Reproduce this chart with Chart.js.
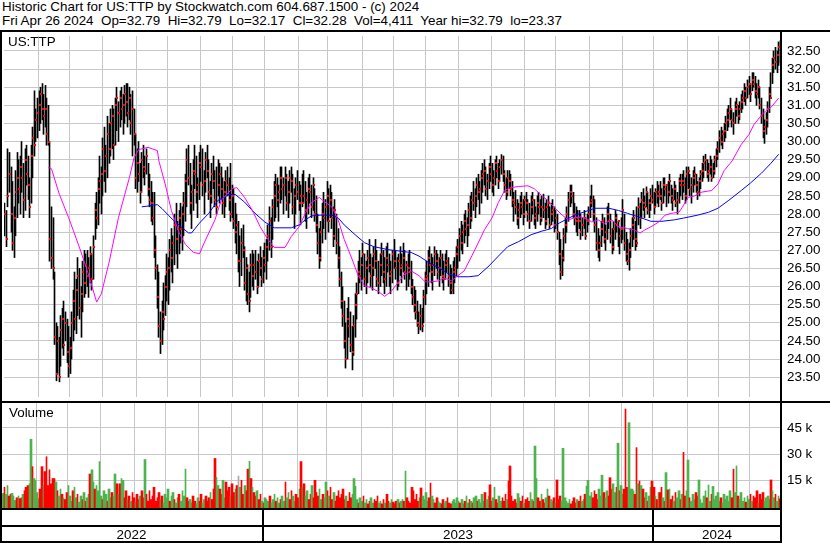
<!DOCTYPE html>
<html>
<head>
<meta charset="utf-8">
<title>US:TTP historic chart</title>
<script src="https://cdn.jsdelivr.net/npm/chart.js@4.4.1/dist/chart.umd.min.js"></script>
<style>
  html, body { margin: 0; padding: 0; background: #fff; }
  body { position: relative; width: 830px; height: 543px; overflow: hidden;
         font-family: "Liberation Sans", Arial, sans-serif; font-size: 13.4px; color: #000; }
  .txt { position: absolute; line-height: 14.4px; white-space: pre; }
  .rule { position: absolute; background: #000; }
  canvas { position: absolute; left: 0; }
</style>
</head>
<body>
<div class="txt" style="left:2px;top:0">Historic Chart for US:TTP by Stockwatch.com 604.687.1500 - (c) 2024
Fri Apr 26 2024  Op=32.79  Hi=32.79  Lo=32.17  Cl=32.28  Vol=4,411  Year hi=32.79  lo=23.37</div>
<canvas id="priceChart" width="830" height="369" style="top:32px"></canvas>
<canvas id="volumeChart" width="830" height="105" style="top:403px"></canvas>
<div class="txt" style="left:8px;top:34.5px">US:TTP</div>
<div class="txt" style="left:9px;top:406px">Volume</div>
<div class="rule" style="left:0;top:30px;width:830px;height:2px"></div>
<div class="rule" style="left:0;top:401px;width:830px;height:2px"></div>
<div class="rule" style="left:0;top:508px;width:781px;height:2px"></div>
<div class="rule" style="left:0;top:525px;width:781px;height:2px"></div>
<div class="rule" style="left:0;top:541px;width:781px;height:2px"></div>
<div class="rule" style="left:0;top:30px;width:2px;height:513px"></div>
<div class="rule" style="left:780px;top:30px;width:2px;height:513px"></div>
<div id="yearBand"></div>
<script>
// daily bars, May 2022 .. Apr 26 2024
const lows = [
  27.4, 27.1, 28.2, 28.6, 27.5, 27.0, 26.8, 27.4, 27.9, 28.3,
  28.0, 28.6, 27.9, 28.1, 28.8, 28.4, 27.9, 28.3, 29.0, 29.6,
  30.0, 30.1, 30.3, 30.5, 30.6, 30.2, 30.4, 29.9, 29.9, 26.7,
  26.5, 26.2, 24.4, 23.4, 23.6, 23.37, 23.8, 24.3, 24.1, 24.5,
  23.9, 23.5, 23.6, 24.0, 24.5, 24.8, 24.7, 25.2, 25.1, 24.6,
  25.3, 25.7, 25.8, 26.0, 25.7, 26.1, 25.9, 26.2, 27.3, 27.6,
  27.7, 28.3, 28.0, 28.5, 28.9, 28.6, 29.0, 29.4, 29.6, 29.8,
  29.5, 29.9, 30.3, 30.0, 30.4, 30.6, 30.2, 30.5, 30.7, 30.4,
  30.6, 30.2, 29.6, 29.9, 28.7, 28.6, 28.9, 28.3, 28.6, 29.0,
  28.8, 29.1, 28.5, 28.2, 27.8, 27.7, 26.8, 26.2, 25.4, 24.6,
  24.15, 24.4, 24.8, 25.2, 25.6, 25.5, 25.9, 26.4, 26.1, 26.6,
  26.9, 26.5, 26.9, 27.2, 27.0, 27.4, 27.8, 28.2, 28.8, 28.0,
  27.6, 28.1, 28.7, 28.3, 27.9, 28.4, 28.9, 28.5, 28.0, 28.6,
  29.0, 28.4, 27.9, 28.3, 28.7, 28.2, 28.0, 28.5, 28.3, 28.4,
  28.0, 27.9, 28.2, 28.5, 28.1, 27.8, 27.9, 27.6, 27.2, 26.9,
  26.4, 26.0, 26.3, 26.8, 25.9, 25.6, 25.5, 25.3, 25.7, 26.0,
  25.9, 26.2, 25.8, 26.0, 26.3, 26.0, 26.1, 26.4, 26.2, 26.7,
  27.0, 26.8, 27.3, 27.8, 27.9, 28.2, 27.8, 28.3, 28.4, 28.0,
  28.5, 28.1, 27.9, 28.3, 28.6, 28.0, 27.6, 28.0, 28.4, 28.1,
  27.7, 28.2, 28.3, 27.8, 27.6, 28.0, 28.3, 27.9, 28.1, 27.8,
  27.5, 26.9, 26.5, 26.7, 27.2, 27.6, 27.3, 27.8, 27.5, 27.9,
  27.6, 27.1, 27.3, 26.9, 26.5, 26.0, 25.4, 24.9, 24.3, 23.75,
  24.0, 24.6, 24.2, 23.7, 24.1, 24.6, 25.1, 25.8, 26.1, 25.9,
  26.2, 26.0, 25.8, 26.1, 26.4, 26.0, 25.9, 26.3, 26.5, 26.0,
  25.8, 26.0, 26.3, 26.1, 25.8, 26.0, 26.4, 26.0, 25.8, 26.1,
  26.5, 26.2, 25.9, 26.0, 26.3, 26.1, 26.4, 26.2, 25.9, 26.0,
  26.2, 25.8, 25.5, 25.3, 25.1, 24.9, 24.7, 24.8, 24.75, 25.0,
  25.5, 25.8, 26.0, 26.4, 26.1, 25.9, 26.3, 26.5, 26.2, 26.0,
  26.3, 26.1, 25.9, 26.2, 26.4, 26.0, 25.8, 25.8, 25.8, 26.1,
  26.3, 26.5, 26.7, 27.0, 26.9, 27.2, 27.4, 27.1, 27.4, 27.6,
  27.8, 28.1, 27.9, 28.2, 28.4, 28.0, 28.3, 28.6, 28.8, 28.5,
  28.4, 28.7, 28.9, 28.6, 28.5, 28.8, 29.0, 28.7, 28.9, 29.1,
  28.9, 28.6, 28.4, 28.5, 28.7, 28.5, 28.2, 27.8, 28.0, 27.7,
  27.6, 27.9, 28.0, 27.7, 27.9, 28.1, 27.8, 27.6, 27.8, 28.0,
  27.7, 27.6, 27.8, 28.0, 27.7, 27.8, 27.9, 27.6, 27.7, 27.9,
  27.6, 27.7, 27.8, 27.5, 27.6, 27.3, 26.6, 26.2, 26.3, 26.7,
  27.2, 27.5, 27.8, 28.2, 28.3, 27.9, 27.7, 27.5, 27.4, 27.6,
  27.3, 27.4, 27.6, 27.3, 27.5, 27.7, 27.9, 28.2, 27.8, 27.5,
  27.0, 26.8, 26.7, 27.1, 27.4, 27.2, 27.0, 27.3, 27.6, 27.2,
  26.9, 27.0, 27.3, 27.5, 27.1, 26.9, 27.2, 27.3, 27.0, 26.7,
  26.6, 26.45, 26.8, 27.1, 27.3, 27.0, 27.1, 27.7, 27.6, 27.9,
  28.1, 27.9, 28.2, 28.0, 27.9, 28.1, 28.3, 28.0, 28.2, 28.3,
  28.2, 28.4, 28.1, 28.3, 28.5, 28.2, 28.3, 28.5, 28.3, 28.1,
  28.4, 28.2, 28.0, 28.3, 28.5, 28.4, 28.6, 28.3, 28.4, 28.7,
  28.5, 28.3, 28.6, 28.8, 28.6, 28.4, 28.5, 28.7, 28.9, 29.0,
  29.2, 29.0, 28.9, 29.1, 28.9, 29.0, 29.1, 29.3, 29.5, 29.7,
  29.9, 29.8, 30.0, 30.1, 30.3, 30.4, 30.6, 30.4, 30.2, 30.5,
  30.7, 30.5, 30.6, 30.8, 30.9, 31.1, 31.0, 31.2, 31.3, 31.1,
  31.4, 31.5, 31.2, 31.0, 31.2, 30.9, 30.5, 30.1, 29.95, 30.2,
  30.4, 30.8, 31.2, 31.6, 31.9, 32.0, 31.9, 32.1, 32.17
];
const highs = [
  28.3, 28.1, 29.8, 29.7, 29.3, 28.9, 28.2, 29.2, 29.7, 29.5,
  29.6, 30.0, 29.4, 29.8, 29.9, 29.6, 29.0, 29.9, 30.4, 31.4,
  30.9, 31.2, 31.4, 31.5, 31.6, 31.3, 31.55, 31.2, 31.0, 30.0,
  28.2, 27.9, 26.4, 25.0, 24.9, 24.6, 25.2, 25.4, 25.6, 25.3,
  25.1, 24.9, 24.6, 25.3, 25.9, 26.4, 26.2, 26.8, 26.5, 26.0,
  26.7, 27.0, 26.9, 27.0, 26.8, 27.1, 26.9, 27.4, 28.3, 28.6,
  29.0, 29.6, 29.3, 30.1, 30.4, 29.9, 30.7, 30.5, 30.9, 31.0,
  30.9, 31.2, 31.5, 31.1, 31.4, 31.5, 31.3, 31.55, 31.6, 31.6,
  31.5, 31.3, 31.4, 30.9, 30.2, 29.8, 30.0, 29.4, 29.7, 29.9,
  29.6, 29.8, 29.4, 29.1, 28.9, 28.6, 28.6, 27.4, 26.6, 26.4,
  25.3, 25.6, 26.1, 26.3, 26.9, 26.8, 27.3, 27.6, 27.4, 28.0,
  28.3, 27.8, 28.1, 28.3, 28.2, 28.6, 29.1, 29.8, 29.9, 29.4,
  28.8, 29.5, 29.9, 29.6, 29.0, 29.7, 29.9, 29.8, 29.2, 29.7,
  29.9, 29.5, 28.9, 29.4, 29.6, 29.2, 29.3, 29.5, 29.4, 29.3,
  29.0, 28.9, 29.2, 29.3, 29.0, 29.4, 28.8, 28.7, 28.3, 28.0,
  27.8, 27.4, 27.6, 27.7, 27.1, 26.8, 26.6, 26.4, 26.9, 27.0,
  26.9, 27.0, 26.7, 26.9, 27.1, 26.8, 27.0, 27.2, 27.3, 27.7,
  28.2, 27.9, 28.4, 28.9, 29.1, 29.0, 28.8, 29.3, 29.3, 29.0,
  29.3, 29.1, 28.9, 29.2, 29.3, 29.1, 28.7, 29.0, 29.2, 28.9,
  28.8, 29.1, 29.2, 28.9, 28.6, 29.0, 29.1, 28.8, 29.0, 28.7,
  28.5, 28.0, 27.6, 27.8, 28.3, 28.6, 28.4, 28.9, 28.7, 28.8,
  28.6, 28.2, 28.4, 28.0, 27.6, 27.1, 26.4, 26.0, 25.6, 25.0,
  25.4, 25.7, 25.3, 24.9, 25.2, 25.8, 26.1, 26.7, 27.0, 26.8,
  27.2, 26.9, 26.7, 27.0, 27.3, 26.9, 26.8, 27.1, 27.3, 27.0,
  26.7, 26.9, 27.2, 27.0, 26.8, 27.1, 27.2, 26.9, 26.7, 27.0,
  27.3, 27.0, 26.8, 26.9, 27.1, 26.9, 27.2, 27.0, 26.7, 26.9,
  27.0, 26.7, 26.2, 26.0, 25.9, 25.6, 25.3, 25.5, 25.4, 25.9,
  26.4, 26.7, 27.0, 27.1, 26.9, 26.8, 27.1, 27.0, 26.9, 26.8,
  27.0, 26.9, 26.7, 26.9, 27.0, 26.8, 26.6, 26.5, 26.7, 26.8,
  27.1, 27.3, 27.6, 27.8, 27.7, 28.0, 28.1, 27.9, 28.3, 28.5,
  28.6, 28.9, 28.7, 29.0, 29.1, 28.9, 29.2, 29.4, 29.5, 29.3,
  29.1, 29.4, 29.6, 29.4, 29.2, 29.5, 29.6, 29.4, 29.5, 29.64,
  29.6, 29.2, 29.0, 29.2, 29.2, 29.1, 28.9, 28.6, 28.65, 28.4,
  28.3, 28.5, 28.6, 28.4, 28.5, 28.6, 28.4, 28.3, 28.5, 28.6,
  28.4, 28.2, 28.5, 28.6, 28.4, 28.5, 28.55, 28.3, 28.4, 28.5,
  28.2, 28.3, 28.4, 28.2, 28.1, 28.0, 27.5, 27.3, 27.0, 27.6,
  27.9, 28.2, 28.6, 28.8, 28.8, 28.6, 28.3, 28.2, 28.1, 28.1,
  28.0, 27.9, 28.1, 27.9, 28.0, 28.2, 28.5, 28.8, 28.5, 28.4,
  27.9, 27.6, 27.4, 27.8, 28.0, 27.9, 27.7, 28.2, 28.3, 28.0,
  27.6, 27.8, 28.1, 28.0, 27.8, 27.6, 27.9, 28.4, 28.0, 27.5,
  27.3, 27.2, 27.6, 27.9, 28.1, 27.8, 28.2, 28.45, 28.3, 28.6,
  28.7, 28.5, 28.75, 28.6, 28.4, 28.7, 28.8, 28.6, 28.7, 28.9,
  28.8, 28.9, 28.7, 29.0, 29.0, 28.8, 28.9, 29.1, 28.8, 28.7,
  28.9, 28.8, 28.6, 29.0, 29.1, 29.1, 29.2, 29.0, 29.3, 29.3,
  29.1, 29.0, 29.2, 29.3, 29.1, 28.9, 29.0, 29.2, 29.4, 29.6,
  29.65, 29.5, 29.4, 29.6, 29.5, 29.4, 29.6, 29.8, 30.0, 30.3,
  30.4, 30.3, 30.5, 30.7, 30.9, 31.0, 31.2, 30.9, 30.8, 31.1,
  31.2, 31.0, 31.1, 31.3, 31.4, 31.6, 31.5, 31.7, 31.8, 31.6,
  31.9, 31.9, 31.8, 31.6, 31.7, 31.5, 31.2, 30.9, 30.6, 30.8,
  31.1, 31.5, 31.9, 32.3, 32.5, 32.6, 32.5, 32.75, 32.79
];
const closes = [
  28.0, 27.3, 28.5, 29.1, 28.0, 27.2, 27.9, 28.6, 29.0, 28.7,
  29.3, 29.0, 28.4, 29.5, 29.1, 28.8, 28.2, 29.6, 30.1, 29.9,
  30.6, 30.8, 31.0, 31.3, 30.9, 30.7, 30.9, 30.2, 30.0, 27.3,
  26.8, 26.5, 24.6, 23.6, 24.5, 23.5, 24.8, 25.1, 24.4, 25.0,
  24.2, 23.8, 24.3, 25.0, 25.6, 25.1, 25.9, 26.3, 25.4, 25.8,
  26.4, 26.1, 26.6, 26.3, 26.5, 26.9, 26.2, 27.1, 28.1, 27.9,
  28.7, 28.9, 29.1, 29.8, 29.2, 29.6, 30.2, 29.8, 30.5, 30.7,
  29.9, 31.0, 31.2, 30.8, 31.2, 30.9, 31.0, 31.3, 31.1, 30.8,
  31.2, 30.5, 30.9, 30.2, 29.0, 29.4, 29.1, 28.6, 29.5, 29.3,
  29.2, 29.6, 28.7, 28.4, 28.3, 27.9, 27.0, 26.5, 25.7, 24.9,
  24.5, 25.3, 25.1, 26.0, 26.4, 26.5, 27.0, 26.8, 27.2, 27.7,
  27.3, 27.6, 27.9, 27.6, 28.0, 28.3, 28.9, 29.5, 29.0, 28.3,
  28.6, 29.2, 29.1, 28.6, 28.8, 29.4, 29.3, 28.8, 28.9, 29.5,
  29.2, 28.6, 28.5, 29.1, 28.9, 28.4, 28.2, 28.8, 29.1, 28.7,
  28.3, 28.6, 28.9, 28.8, 28.4, 28.0, 28.5, 27.8, 27.5, 27.7,
  26.7, 26.7, 27.2, 27.0, 26.1, 26.5, 25.8, 25.6, 26.6, 26.3,
  26.6, 26.4, 26.0, 26.7, 26.5, 26.2, 26.8, 26.6, 27.1, 27.4,
  27.8, 27.1, 28.2, 28.5, 28.8, 28.4, 28.6, 29.0, 28.7, 28.8,
  29.0, 28.3, 28.6, 29.0, 28.9, 28.2, 28.5, 28.8, 28.6, 28.3,
  28.5, 28.3, 28.5, 28.1, 28.4, 28.7, 28.6, 28.2, 28.8, 28.0,
  27.7, 27.2, 26.8, 27.5, 28.0, 27.9, 28.2, 28.5, 27.8, 28.4,
  27.9, 27.4, 28.1, 27.2, 26.8, 26.2, 25.6, 25.2, 24.5, 24.0,
  25.1, 24.9, 24.4, 24.2, 24.9, 25.5, 25.8, 26.4, 26.3, 26.6,
  26.9, 26.2, 26.5, 26.8, 26.6, 26.3, 26.5, 26.9, 26.7, 26.2,
  26.1, 26.6, 26.9, 26.4, 26.2, 26.8, 26.6, 26.3, 26.4, 26.9,
  26.7, 26.5, 26.1, 26.7, 26.5, 26.6, 26.8, 26.4, 26.6, 26.5,
  26.4, 26.0, 25.7, 25.5, 25.3, 25.0, 24.9, 25.2, 24.9, 25.7,
  26.2, 26.3, 26.8, 26.6, 26.4, 26.6, 26.9, 26.7, 26.4, 26.5,
  26.8, 26.3, 26.2, 26.6, 26.7, 26.3, 26.1, 25.9, 26.4, 26.5,
  26.9, 27.1, 27.4, 27.2, 27.5, 27.8, 27.6, 27.7, 28.1, 27.9,
  28.4, 28.3, 28.5, 28.8, 28.6, 28.7, 29.0, 29.1, 29.2, 28.7,
  28.9, 29.3, 29.1, 28.8, 29.0, 29.4, 29.2, 28.9, 29.3, 29.5,
  29.1, 28.8, 28.6, 29.0, 28.9, 28.7, 28.4, 28.3, 28.2, 27.9,
  28.1, 28.3, 28.2, 28.0, 28.4, 28.3, 28.0, 27.8, 28.2, 28.4,
  27.9, 28.0, 28.3, 28.2, 27.9, 28.2, 28.1, 27.8, 28.2, 28.3,
  27.7, 28.0, 28.1, 27.7, 27.9, 27.5, 26.9, 26.4, 26.8, 27.4,
  27.7, 28.0, 28.4, 28.6, 28.5, 28.0, 27.9, 27.8, 27.9, 27.8,
  27.5, 27.7, 27.9, 27.4, 27.8, 28.0, 28.3, 28.4, 28.0, 27.7,
  27.2, 27.0, 27.2, 27.6, 27.8, 27.3, 27.5, 28.0, 27.8, 27.4,
  27.1, 27.6, 27.9, 27.7, 27.8, 27.4, 27.6, 28.1, 27.2, 26.9,
  26.7, 27.0, 27.4, 27.7, 27.9, 27.3, 27.2, 28.2, 27.9, 28.4,
  28.3, 28.2, 28.6, 28.1, 28.3, 28.5, 28.4, 28.2, 28.6, 28.5,
  28.6, 28.5, 28.3, 28.8, 28.7, 28.8, 28.6, 28.9, 28.5, 28.4,
  28.7, 28.3, 28.4, 28.9, 28.8, 28.9, 28.8, 28.5, 29.1, 29.2,
  28.7, 28.8, 29.0, 29.1, 28.8, 28.6, 28.9, 29.1, 29.2, 29.4,
  29.5, 29.1, 29.2, 29.3, 29.0, 29.2, 29.5, 29.6, 29.8, 30.1,
  30.0, 30.2, 30.3, 30.5, 30.6, 30.8, 30.9, 30.6, 30.5, 30.9,
  31.0, 30.7, 30.9, 31.1, 31.2, 31.4, 31.2, 31.5, 31.6, 31.3,
  31.7, 31.6, 31.4, 31.3, 31.5, 31.0, 30.7, 30.3, 30.4, 30.6,
  30.9, 31.3, 31.2, 32.1, 32.3, 32.2, 32.4, 32.6, 32.28
];
// volume in thousands of shares
const volumeK = [
  7.5, 11, 7, 12, 6, 7, 7.5, 6, 3.5, 5,
  6, 4.5, 5, 7, 9, 11, 12, 13, 38.5, 22.8,
  16, 15, 8, 4.5, 10, 22.8, 12, 20, 28.5, 12,
  21, 13, 16, 16, 14, 9, 6, 10, 7, 5,
  4, 8, 12, 6, 3, 9, 11, 5, 7, 2.5,
  6, 4, 8, 3, 5, 7, 18.6, 21, 14, 10,
  12, 9, 25.7, 6, 4, 9, 7, 3, 10, 5,
  8, 6, 18.6, 13, 7, 13, 16, 15, 5, 9,
  4, 6, 3, 8, 5, 2.5, 7, 4, 6, 9,
  5, 26.9, 7, 3, 9, 4, 6, 11, 3, 5,
  8, 4, 6, 2, 7, 5, 10, 3, 6, 8,
  4, 2, 5, 7, 3, 9, 6, 21.4, 5, 3,
  4, 2, 6, 3, 1.5, 5, 3, 7, 2, 4,
  6, 3, 5, 8, 4, 10, 27.5, 16.7, 12, 10,
  7, 15, 5, 14, 9, 11, 6, 13, 8, 10,
  12, 17.4, 11, 15, 7, 12, 9, 21.4, 25.9, 16,
  11, 8, 6, 9, 4, 7, 3, 2, 5, 4,
  3, 6, 2, 4, 7, 3, 5, 2, 4, 6,
  3, 14, 5, 8, 4, 9, 6, 3, 7, 5,
  10, 25.7, 11, 13, 6, 9, 4, 7, 12, 5,
  15, 8, 6, 10, 4, 7, 5, 14, 9, 6,
  11, 4, 8, 3, 6, 9, 5, 7, 10, 4,
  6, 3, 8, 5, 7, 16, 11.5, 4, 2, 5,
  3, 6, 2, 4, 1.5, 3, 5, 2, 4, 3,
  6, 2, 3, 1.5, 4, 2, 7, 3, 2, 4,
  2.5, 1.5, 3, 4, 2, 3, 4, 3, 20.3, 5,
  3, 2, 11, 9, 4, 7, 3, 5, 10.6, 6,
  4, 8, 3, 5, 13.4, 6, 4, 2, 5, 3,
  2, 1.5, 4, 2, 3, 5, 2, 1.5, 3, 4,
  2, 5, 3, 2, 4, 1.5, 3, 6, 2, 4,
  3, 2, 5, 6, 3, 4, 2, 7, 3, 8,
  4, 6, 12.4, 3, 5, 11, 4, 2, 6, 3,
  5, 3, 7, 4, 14.6, 23.2, 6, 3, 4, 2,
  7.4, 5, 3, 6, 2, 4, 5, 3, 8, 4,
  3, 34.6, 16, 5, 3, 7, 4, 2, 5, 10,
  6, 4, 3, 5, 2, 15.2, 4, 6, 3, 33.3,
  5, 3, 2, 4, 1.5, 3, 5, 2, 4, 3,
  6, 3, 4, 7, 11.6, 15, 6, 8, 5, 9,
  7, 4, 10, 6, 17.9, 8, 5, 9, 6, 16.5,
  10, 13, 8, 11, 36.2, 9, 12, 7, 10, 55.8,
  11, 48, 10, 10, 9, 7, 33.7, 13, 14.6, 12,
  10, 5, 8, 3, 6, 11, 14.6, 11, 6, 4,
  8, 8, 11, 5, 3, 19.4, 9.5, 10, 4, 6,
  3, 8, 5, 9, 4, 7, 31, 6, 9, 26.6,
  5, 3, 7, 4, 8, 6, 15.2, 4, 2, 6,
  9, 5, 12.3, 3, 7, 11.5, 4, 6, 8, 3,
  5, 2, 7, 4, 6, 3, 9, 5, 21.4, 8,
  23.2, 6, 4, 8, 3, 5, 2.5, 6, 4, 7,
  3, 6, 5, 9, 2, 7, 4, 8, 3, 5,
  6, 4, 15.2, 9, 5, 7, 3, 6, 4.4
];
// moving averages as drawn (bar index, price)
const fastMaIdx = [28, 30, 35, 41, 44, 49, 54, 59, 62, 67, 73, 80, 83, 86, 92, 98, 99, 103, 107, 112,
  116, 121, 125, 128, 135, 139, 146, 149, 154, 159, 164, 169, 173, 180, 184, 189, 193, 197, 202, 205,
  210, 214, 218, 223, 227, 231, 236, 240, 244, 248, 253, 257, 261, 266, 270, 274, 279, 282, 287, 291,
  295, 300, 304, 308, 313, 317, 321, 325, 330, 336, 340, 345, 349, 353, 358, 362, 366, 370, 375, 377,
  381, 385, 390, 394, 400, 404, 408, 411, 415, 420, 424, 428, 433, 435, 439, 443, 447, 454, 458, 462,
  467, 473, 478, 481, 486, 489, 492, 497];
const fastMaVal = [29.29, 29.25, 28.55, 27.9, 27.55, 26.95, 26.3, 25.57, 25.8, 26.67, 27.9, 29.0, 29.55, 29.78, 29.84, 29.75, 29.46, 28.83, 28.1, 27.48,
  27.16, 26.95, 26.9, 27.2, 27.84, 28.38, 28.7, 28.73, 28.46, 28.1, 27.65, 27.3, 27.08, 27.08, 27.38, 27.65, 28.02, 28.32, 28.46, 28.35,
  28.2, 27.85, 27.3, 26.76, 26.3, 26.03, 25.95, 25.86, 25.73, 25.86, 26.13, 26.35, 26.43, 26.3, 26.13, 26.13, 26.16, 26.24, 26.16, 26.3,
  26.43, 26.85, 27.2, 27.56, 27.9, 28.32, 28.65, 28.73, 28.76, 28.78, 28.7, 28.5, 28.37, 28.18, 27.97, 27.84, 27.9, 27.92, 27.84, 27.78,
  27.84, 27.74, 27.84, 27.65, 27.6, 27.56, 27.48, 27.56, 27.65, 27.78, 27.97, 28.02, 28.05, 28.18, 28.46, 28.5, 28.6, 28.65, 28.83, 29.2,
  29.46, 29.92, 30.2, 30.46, 30.73, 30.86, 30.94, 31.2];
const slowMaIdx = [88, 92, 98, 101, 105, 109, 114, 118, 120, 125, 131, 137, 144, 148, 154, 160, 167, 173, 178, 184,
  189, 193, 197, 203, 210, 214, 218, 225, 231, 237, 246, 255, 261, 266, 272, 279, 285, 291, 298, 304,
  311, 317, 323, 330, 338, 345, 351, 356, 366, 375, 379, 388, 394, 400, 409, 415, 422, 430, 436, 445,
  452, 458, 465, 473, 479, 486, 492, 497];
const slowMaVal = [28.2, 28.22, 28.26, 28.15, 27.97, 27.8, 27.62, 27.48, 27.48, 27.75, 28.02, 28.38, 28.54, 28.54, 28.33, 28.05, 27.78, 27.62, 27.62, 27.62,
  27.7, 27.84, 27.95, 27.97, 27.97, 27.9, 27.7, 27.43, 27.21, 27.1, 27.02, 26.97, 26.94, 26.84, 26.67, 26.51, 26.35, 26.27, 26.27, 26.3,
  26.57, 26.84, 27.1, 27.24, 27.43, 27.53, 27.6, 27.75, 27.97, 28.1, 28.16, 28.16, 28.1, 28.02, 27.89, 27.8, 27.8, 27.84, 27.89, 27.97,
  28.05, 28.16, 28.38, 28.65, 28.86, 29.13, 29.4, 29.65];

// first bar of each month / year
const monthStarts = [22, 42, 63, 85, 105, 126, 147, 167, 189, 208, 230, 250, 271, 292, 313, 334, 354, 376, 397, 417, 439, 459, 479];
const yearStarts = [0, 167, 417];
const yearLabels = ['2022', '2023', '2024'];
const priceTicks = [23.5, 24, 24.5, 25, 25.5, 26, 26.5, 27, 27.5, 28, 28.5, 29, 29.5, 30, 30.5, 31, 31.5, 32, 32.5];
const volumeTicks = [15, 30, 45];

const priceMin = 22.952, priceMax = 32.913;
const volMin = -0.86, volMax = 59.25;

const gridColor = '#c8c8c8';
const upColor = '#4db34d', downColor = '#ff0000', flatColor = '#a8a8a8';

Chart.defaults.font.family = '"Liberation Sans", Arial, sans-serif';
Chart.defaults.font.size = 13.4;
Chart.defaults.color = '#000';

// bar controllers that snap the library's computed positions to whole pixels,
// so the 1px price bars stay crisp like the original instead of blurring
class PriceBarController extends Chart.BarController {
    static id = 'priceBar';
    updateElements(bars, start, count, mode) {
        super.updateElements(bars, start, count, mode);
        for (let i = start; i < start + count; i++) {
            bars[i].x = Math.floor(bars[i].x) + 0.5;
            bars[i].width = 1;
        }
    }
}
class VolumeBarController extends Chart.BarController {
    static id = 'volumeBar';
    updateElements(bars, start, count, mode) {
        super.updateElements(bars, start, count, mode);
        for (let i = start; i < start + count; i++) {
            const b = bars[i];
            const left = Math.round(b.x - b.width / 2);
            const right = Math.max(left + 1, Math.round(b.x + b.width / 2));
            b.x = (left + right) / 2;
            b.width = right - left;
        }
    }
}
class CloseMarkController extends Chart.ScatterController {
    static id = 'closeMark';
    updateElements(points, start, count, mode) {
        super.updateElements(points, start, count, mode);
        for (let i = start; i < start + count; i++) {
            points[i].x = Math.floor(points[i].x) + 1;
            points[i].y = Math.round(points[i].y);
        }
    }
}
Chart.register(PriceBarController, VolumeBarController, CloseMarkController);

const barIdx = lows.map((_, i) => i);

function noPad(s) {
    s.paddingTop = 0; s.paddingBottom = 0; s.paddingLeft = 0; s.paddingRight = 0;
}

// x axis: no labels, just the monthly grid lines
function monthAxis() {
    return {
        type: 'linear',
        offset: false,
        min: -0.5,
        max: lows.length - 0.5,
        afterBuildTicks: s => { s.ticks = monthStarts.map(m => ({ value: m - 0.5 })); },
        afterFit: s => { s.height = 0; noPad(s); },
        ticks: { display: false },
        grid: { color: gridColor, drawTicks: false, offset: false },
        border: { display: false }
    };
}

const common = {
    responsive: false,
    devicePixelRatio: 1,
    animation: false,
    events: [],
    layout: { padding: { left: 2, right: 0, top: 0, bottom: 0 } },
    plugins: { legend: { display: false }, tooltip: { enabled: false } }
};

new Chart(document.getElementById('priceChart'), {
    type: 'bar',
    data: {
        datasets: [
            {
                type: 'line',
                data: fastMaIdx.map((x, k) => ({ x: x, y: fastMaVal[k] })),
                borderColor: '#ff00ff',
                borderWidth: 1,
                pointRadius: 0,
                tension: 0,
                order: 0
            },
            {
                type: 'line',
                data: slowMaIdx.map((x, k) => ({ x: x, y: slowMaVal[k] })),
                borderColor: '#0000ff',
                borderWidth: 1,
                pointRadius: 0,
                tension: 0,
                order: 1
            },
            {
                type: 'closeMark',
                data: barIdx.map(i => ({ x: i, y: closes[i] })),
                pointStyle: 'rect',
                pointRadius: 1.4143,
                pointBorderWidth: 0,
                backgroundColor: '#ff0000',
                order: 2
            },
            {
                type: 'priceBar',
                data: barIdx.map(i => ({ x: i, y: [lows[i], highs[i]] })),
                backgroundColor: '#000',
                barThickness: 1,
                order: 3
            }
        ]
    },
    options: {
        ...common,
        scales: {
            x: monthAxis(),
            y: {
                position: 'right',
                min: priceMin,
                max: priceMax,
                afterBuildTicks: s => { s.ticks = priceTicks.map(v => ({ value: v })); },
                afterFit: s => { s.width = 49; noPad(s); },
                ticks: { padding: 6, autoSkip: false, callback: v => v.toFixed(2) },
                grid: { color: gridColor, drawTicks: false },
                border: { display: false }
            }
        }
    }
});

const volColors = closes.map((c, i) => {
    if (i === 0 || c > closes[i - 1]) return upColor;
    if (c < closes[i - 1]) return downColor;
    return flatColor;
});

const volChart = new Chart(document.getElementById('volumeChart'), {
    type: 'bar',
    data: {
        datasets: [{
            type: 'volumeBar',
            data: barIdx.map(i => ({ x: i, y: volumeK[i] })),
            backgroundColor: volColors,
            base: volMin,
            barPercentage: 1,
            categoryPercentage: 1
        }]
    },
    options: {
        ...common,
        scales: {
            x: monthAxis(),
            y: {
                position: 'right',
                min: volMin,
                max: volMax,
                afterBuildTicks: s => { s.ticks = volumeTicks.map(v => ({ value: v })); },
                afterFit: s => { s.width = 49; noPad(s); },
                ticks: { padding: 6, autoSkip: false, callback: v => v + ' k' },
                grid: { color: gridColor, drawTicks: false },
                border: { display: false }
            }
        }
    }
});

// year band under the volume panel
const band = document.getElementById('yearBand');
const xs = volChart.scales.x;
const edges = yearStarts.map((s, k) => k === 0 ? 0 : Math.round(xs.getPixelForValue(s - 0.5)));
edges.push(Math.round(xs.right));
yearLabels.forEach((label, k) => {
    const d = document.createElement('div');
    d.className = 'txt';
    d.style.left = edges[k] + 'px';
    d.style.width = (edges[k + 1] - edges[k]) + 'px';
    d.style.top = '527.5px';
    d.style.textAlign = 'center';
    d.textContent = label;
    band.appendChild(d);
    if (k > 0) {
        const r = document.createElement('div');
        r.className = 'rule';
        r.style.left = (edges[k] - 1) + 'px';
        r.style.top = '509px';
        r.style.width = '2px';
        r.style.height = '33px';
        band.appendChild(r);
    }
});
</script>
</body>
</html>
